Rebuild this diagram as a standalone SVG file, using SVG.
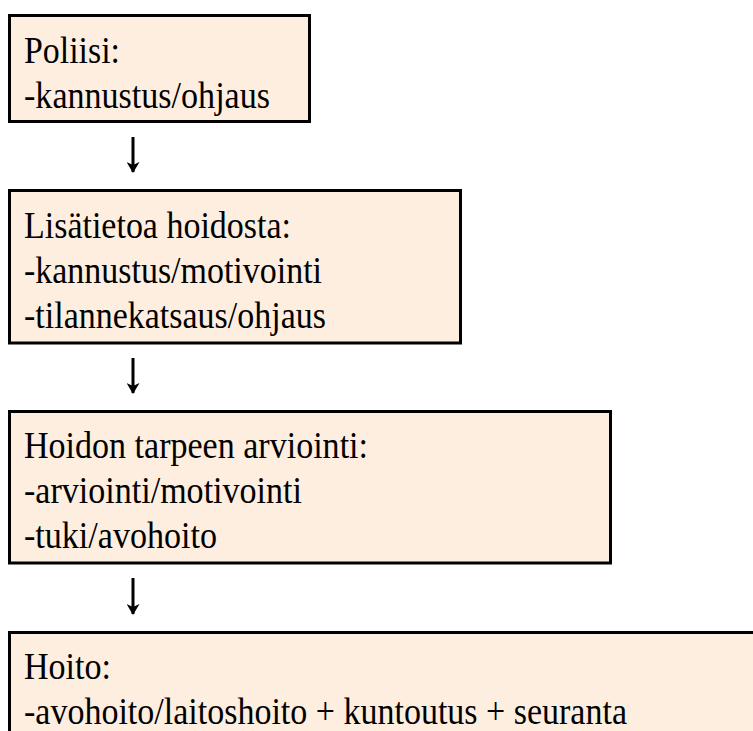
<svg xmlns="http://www.w3.org/2000/svg" width="753" height="731" viewBox="0 0 753 731">
<style>
.box{fill:#FEEEE0;stroke:#000;stroke-width:3}
.c{stroke:#000;stroke-width:3;fill:none}
</style>
<defs>
<marker id="ah" markerWidth="11" markerHeight="13" refX="10" refY="6.5" orient="auto" markerUnits="userSpaceOnUse" viewBox="0 0 11 13">
<path d="M0,0 L11,6.5 L0,13 L3,6.5 Z" fill="#000"/>
</marker>
</defs>
<rect width="753" height="731" fill="#fff"/>
<g font-family="Liberation Serif, Times New Roman, serif" font-size="37" fill="#000">
<g id="n1">
<rect class="box" x="9.5" y="15.5" width="300" height="106"/>
<text x="24" y="63" textLength="96" lengthAdjust="spacingAndGlyphs">Poliisi:</text>
<text x="24" y="108" textLength="246" lengthAdjust="spacingAndGlyphs">-kannustus/ohjaus</text>
</g>
<g id="n2">
<rect class="box" x="9.5" y="190.5" width="451" height="152.5"/>
<text x="24" y="238" textLength="267" lengthAdjust="spacingAndGlyphs">Lisätietoa hoidosta:</text>
<text x="24" y="283" textLength="298" lengthAdjust="spacingAndGlyphs">-kannustus/motivointi</text>
<text x="24" y="328" textLength="302" lengthAdjust="spacingAndGlyphs">-tilannekatsaus/ohjaus</text>
</g>
<g id="n3">
<rect class="box" x="9.5" y="411.5" width="601" height="151.5"/>
<text x="24" y="458" textLength="344" lengthAdjust="spacingAndGlyphs">Hoidon tarpeen arviointi:</text>
<text x="24" y="503" textLength="278" lengthAdjust="spacingAndGlyphs">-arviointi/motivointi</text>
<text x="24" y="548" textLength="193" lengthAdjust="spacingAndGlyphs">-tuki/avohoito</text>
</g>
<g id="n4">
<rect class="box" x="9.5" y="632.5" width="760" height="120"/>
<text x="24" y="679" textLength="87" lengthAdjust="spacingAndGlyphs">Hoito:</text>
<text x="24" y="724" textLength="603" lengthAdjust="spacingAndGlyphs">-avohoito/laitoshoito + kuntoutus + seuranta</text>
</g>
</g>
<g id="connectors">
<line class="c" x1="133" y1="137" x2="133" y2="172" marker-end="url(#ah)"/>
<line class="c" x1="133" y1="358" x2="133" y2="393" marker-end="url(#ah)"/>
<line class="c" x1="133" y1="578" x2="133" y2="614" marker-end="url(#ah)"/>
</g>
</svg>
